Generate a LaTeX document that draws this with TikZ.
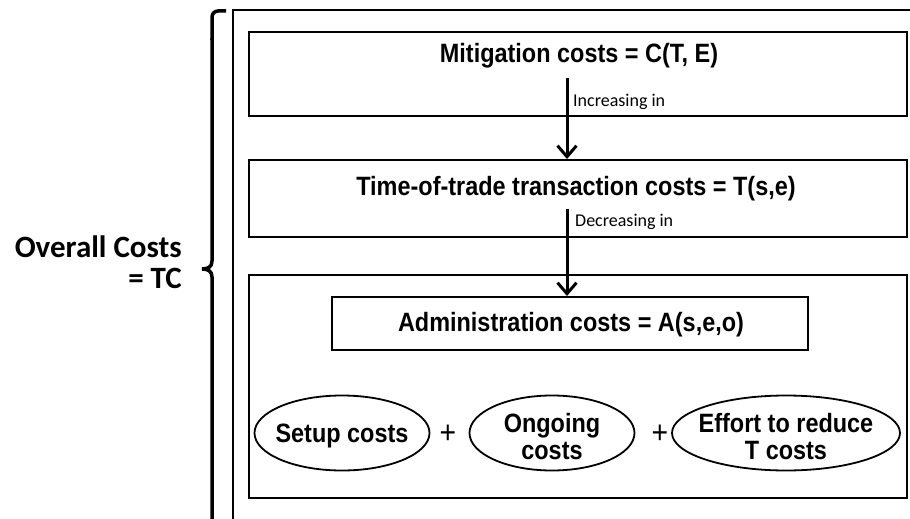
\documentclass[tikz,border=0pt]{standalone}
\usepackage{fontspec}
\setmainfont[FakeStretch=0.885]{Liberation Sans}
\newfontfamily\calib{Carlito}
\usetikzlibrary{arrows.meta,shapes.geometric}
\begin{document}
\begin{tikzpicture}[x=1pt,y=-1pt,
  box/.style={draw, line width=2pt, inner sep=0pt},
  btxt/.style={font=\fontsize{26.5}{28}\selectfont\bfseries, inner sep=0pt, anchor=base},
  oval/.style={draw, ellipse, line width=1.8pt, inner sep=0pt},
  lbl/.style={font=\calib\fontsize{18}{20}\selectfont, inner sep=0pt, anchor=west},
  big/.style={font=\calib\bfseries\fontsize{31}{32}\selectfont, inner sep=0pt, anchor=base east},
  plus/.style={font=\fontsize{32}{32}\selectfont, inner sep=0pt},
  arr/.style={line width=3pt, -{Straight Barb[length=11pt,width=19pt]}},
  frame/.style={line width=2pt},
  brace/.style={line width=3.5pt},
]
\clip (0,0) rectangle (910,519);
\fill[white] (0,0) rectangle (910,519);

% outer frame
\draw[frame] (233,540) -- (233,10) -- (940,10) -- (940,540);

% brace
\draw[brace, rounded corners=6pt] (226,11) -- (212,11) -- (212,40);
\draw[brace] (212,38) -- (212,261) .. controls (212,267) and (208,269) .. (202,269)
  .. controls (208,269) and (212,271) .. (212,277) -- (212,540);

\node[big] (oc) at (182,257) {Overall Costs};
\node[big] (tc) at (182,288) {= TC};

% boxes
\node[box, minimum width=658pt, minimum height=84pt] (mit) at (578,74) {};
\node[btxt] (mitt) at (579,63) {Mitigation costs = C(T, E)};

\node[box, minimum width=658pt, minimum height=77pt] (tim) at (578,198.5) {};
\node[btxt] (timt) at (576,195) {Time-of-trade transaction costs = T(s,e)};

\node[box, minimum width=658pt, minimum height=223pt] (admo) at (578,386.5) {};
\node[box, minimum width=476pt, minimum height=53pt] (adm) at (570,323.5) {};
\node[btxt] (admt) at (571,331) {Administration costs = A(s,e,o)};

% arrows
\coordinate (s1) at (567,78);
\draw[arr] (s1) -- (s1 |- tim.north);
\node[lbl] (inc) at (573,102) {Increasing in};
\coordinate (s2) at (567,209);
\draw[arr] (s2) -- (s2 |- adm.north);
\node[lbl] (dec) at (575,222) {Decreasing in};

% ellipses
\node[oval, minimum width=175pt, minimum height=75pt] (setup) at (342,433) {};
\node[btxt] (setupt) at (342,442) {Setup costs};
\node[plus] (p1) at (448,434) {+};
\node[oval, minimum width=165pt, minimum height=75pt] (ong) at (552,433) {};
\node[btxt] (ong1) at (552,432) {Ongoing};
\node[btxt] (ong2) at (552,459) {costs};
\node[plus] (p2) at (660,434) {+};
\node[oval, minimum width=228pt, minimum height=75pt] (eff) at (786,433) {};
\node[btxt] (eff1) at (786,432) {Effort to reduce};
\node[btxt] (eff2) at (786,459) {T costs};
\end{tikzpicture}
\end{document}
